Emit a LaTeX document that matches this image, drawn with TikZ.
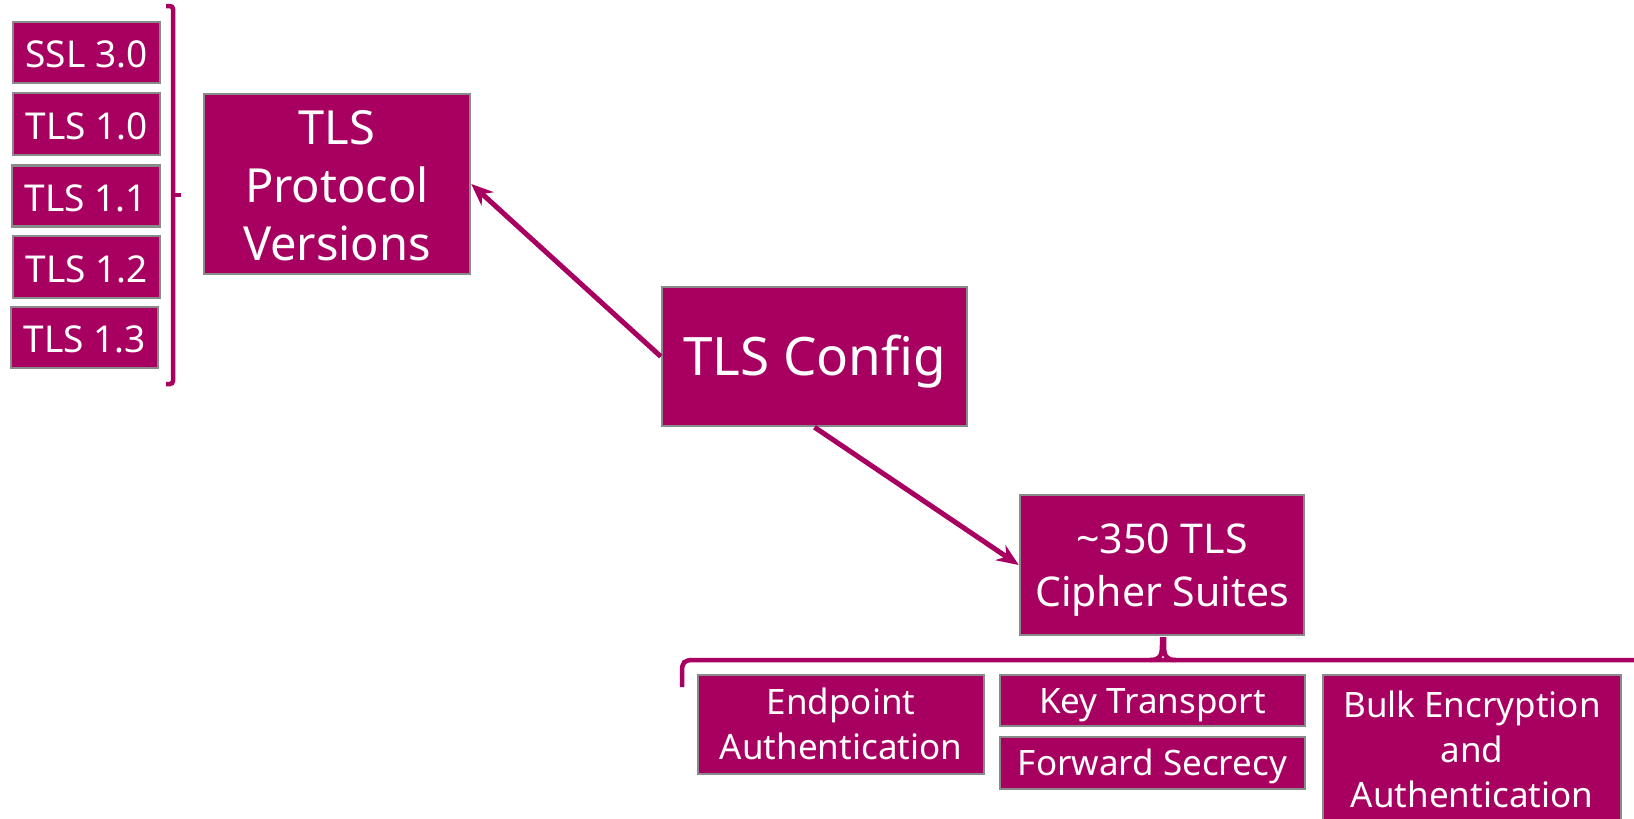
\documentclass[tikz,border=0pt]{standalone}
\usepackage{fontspec}
\setmainfont{Noto Sans}
\usetikzlibrary{arrows.meta}
\definecolor{plum}{HTML}{A80060}
\definecolor{edge}{HTML}{8A8A8A}
\tikzset{
  box/.style={rectangle, fill=plum, draw=edge, line width=2.5pt, text=white,
    align=center, inner sep=0pt, anchor=center, text depth=0pt},
  vbox/.style={box, minimum width=147pt, minimum height=61pt,
    font=\fontsize{37}{44}\selectfont, text height=30pt},
  leaf/.style={box, font=\fontsize{35}{45}\selectfont},
  link/.style={draw=plum, line width=5pt, -{Stealth[length=22pt,width=18pt]}},
  bracket/.style={draw=plum, line width=4.5pt},
}
\begin{document}
\begin{tikzpicture}[x=1pt, y=-1pt]
\useasboundingbox (0,0) rectangle (1634,819);
\begin{scope}
\clip (0,0) rectangle (1634,819);

% protocol versions
\node[vbox] (ssl30) at (86.5,52.5) {SSL 3.0};
\node[vbox, minimum height=62pt] (tls10) at (86.5,124) {TLS 1.0};
\node[vbox, minimum width=148pt] (tls11) at (86,196) {TLS 1.1};
\node[vbox, minimum height=62pt] (tls12) at (86.5,267) {TLS 1.2};
\node[vbox] (tls13) at (84.5,337.5) {TLS 1.3};

% right bracket grouping the versions
\draw[bracket, rounded corners=3pt] (166,6) -- (173,6) -- (173,384) -- (166,384);
\draw[bracket] (173,195) -- (181,195);

% main boxes
\node[box, minimum width=266pt, minimum height=180pt, text height=153pt,
  font=\fontsize{47}{58}\selectfont] (tpv) at (337,184) {TLS\\Protocol\\Versions};
\node[box, minimum width=305pt, minimum height=139pt, text height=38pt,
  font=\fontsize{53}{60}\selectfont] (cfg) at (814.5,356.5) {TLS Config};
\node[box, minimum width=284pt, minimum height=140pt, text height=82pt,
  font=\fontsize{41}{53}\selectfont] (cs) at (1162,565) {\textasciitilde 350 TLS\\Cipher Suites};

\draw[link] (cfg.west) -- (tpv.east);
\draw[link] (cfg.south) -- (cs.west);

% brace under the cipher suites
\draw[bracket] (682,687) -- (682,672) .. controls (682,662) and (684,660) .. (694,660) -- (1640,660);
\draw[bracket] (1150,660) .. controls (1160,660) and (1162,656) .. (1162,645) -- (1162,637);
\draw[bracket] (1176,660) .. controls (1166,660) and (1164,656) .. (1164,645) -- (1164,637);

% cipher suite components
\node[leaf, minimum width=286pt, minimum height=99pt, text height=70pt] (auth) at (841,724.5) {Endpoint\\Authentication};
\node[leaf, minimum width=305pt, minimum height=51pt, text height=25pt] (kt) at (1152.5,700.5) {Key Transport};
\node[leaf, minimum width=305pt, minimum height=52pt, text height=25pt] (fs) at (1152.5,763) {Forward Secrecy};
\node[leaf, minimum width=298pt, minimum height=150pt, text height=115pt] (bulk) at (1472,750) {Bulk Encryption\\and\\Authentication};
\end{scope}
\end{tikzpicture}
\end{document}
